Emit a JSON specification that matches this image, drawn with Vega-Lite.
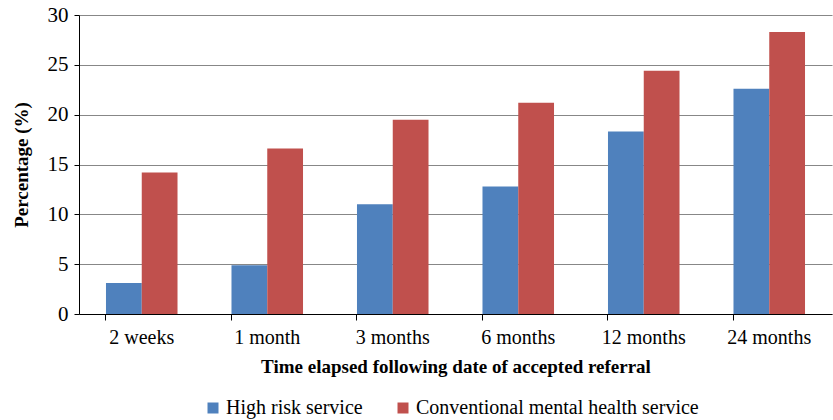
{
  "$schema": "https://vega.github.io/schema/vega-lite/v6.json",
  "width": 753,
  "height": 299,
  "autosize": {"type": "none"},
  "padding": {"left": 79, "top": 15, "right": 1, "bottom": 106},
  "background": "white",
  "config": {"font": "Liberation Serif", "view": {"stroke": null}},
  "data": {
    "values": [
      {"time": "2 weeks", "service": "High risk service", "value": 3.1},
      {"time": "2 weeks", "service": "Conventional mental health service", "value": 14.2},
      {"time": "1 month", "service": "High risk service", "value": 4.9},
      {"time": "1 month", "service": "Conventional mental health service", "value": 16.6},
      {"time": "3 months", "service": "High risk service", "value": 11.0},
      {"time": "3 months", "service": "Conventional mental health service", "value": 19.5},
      {"time": "6 months", "service": "High risk service", "value": 12.8},
      {"time": "6 months", "service": "Conventional mental health service", "value": 21.2},
      {"time": "12 months", "service": "High risk service", "value": 18.3},
      {"time": "12 months", "service": "Conventional mental health service", "value": 24.4},
      {"time": "24 months", "service": "High risk service", "value": 22.6},
      {"time": "24 months", "service": "Conventional mental health service", "value": 28.3}
    ]
  },
  "mark": {"type": "bar"},
  "encoding": {
    "x": {
      "field": "time",
      "type": "nominal",
      "sort": ["2 weeks", "1 month", "3 months", "6 months", "12 months", "24 months"],
      "scale": {"paddingInner": 0.43, "paddingOuter": 0.215},
      "axis": {
        "title": "Time elapsed following date of accepted referral",
        "labelAngle": 0,
        "bandPosition": 0,
        "domainColor": "black",
        "tickColor": "black",
        "tickSize": 6,
        "labelFontSize": 20,
        "labelColor": "black",
        "labelPadding": 7,
        "titleFontSize": 19,
        "titleFontWeight": "bold",
        "titleColor": "black",
        "titlePadding": 10
      }
    },
    "xOffset": {
      "field": "service",
      "sort": ["High risk service", "Conventional mental health service"],
      "scale": {"paddingInner": 0, "paddingOuter": 0}
    },
    "y": {
      "field": "value",
      "type": "quantitative",
      "scale": {"domain": [0, 30]},
      "axis": {
        "values": [0, 5, 10, 15, 20, 25, 30],
        "title": "Percentage (%)",
        "gridColor": "#878787",
        "domainColor": "black",
        "tickColor": "black",
        "tickSize": 5,
        "labelFontSize": 21,
        "labelColor": "black",
        "labelPadding": 6,
        "titleFontSize": 19,
        "titleFontWeight": "bold",
        "titleColor": "black",
        "titlePadding": 16
      }
    },
    "color": {
      "field": "service",
      "type": "nominal",
      "scale": {
        "domain": ["High risk service", "Conventional mental health service"],
        "range": ["#4F81BD", "#C0504D"]
      },
      "legend": {
        "orient": "none",
        "legendX": 124,
        "legendY": 383,
        "direction": "horizontal",
        "title": null,
        "symbolType": "square",
        "symbolSize": 121,
        "symbolStrokeWidth": 0,
        "labelFontSize": 20,
        "labelColor": "black",
        "labelLimit": 500,
        "labelOffset": 3,
        "columnPadding": 30
      }
    }
  }
}
